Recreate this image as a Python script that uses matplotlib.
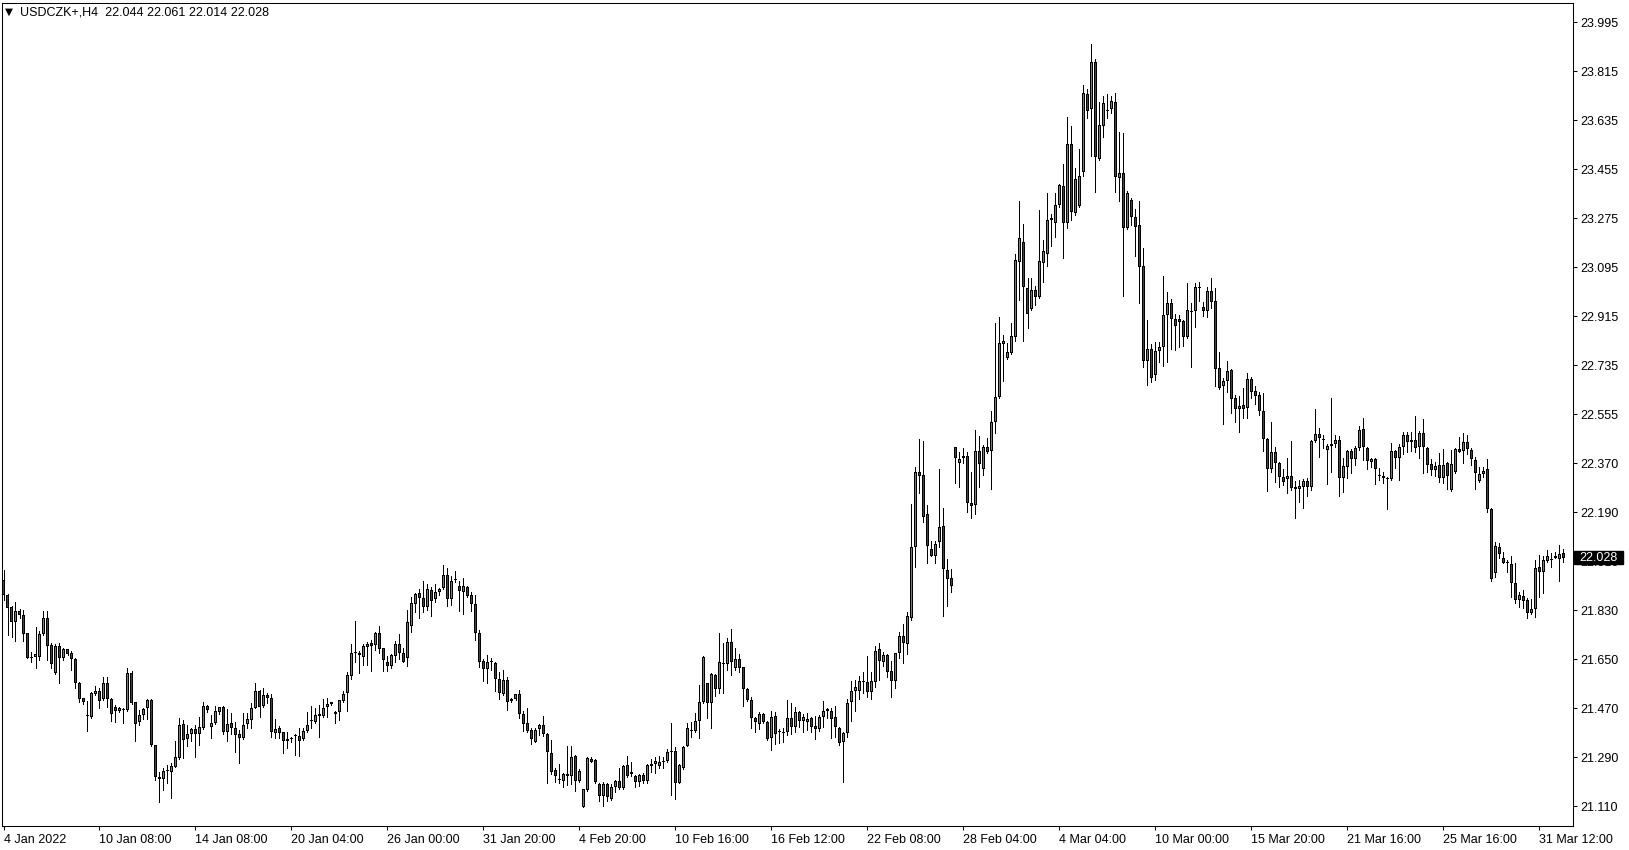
import numpy as np
import matplotlib.pyplot as plt
import matplotlib.transforms as mtransforms
from matplotlib.patches import Rectangle

symbol = "USDCZK+,H4"

time_labels = ["4 Jan 2022", "10 Jan 08:00", "14 Jan 08:00", "20 Jan 04:00", "26 Jan 00:00",
               "31 Jan 20:00", "4 Feb 20:00", "10 Feb 16:00", "16 Feb 12:00", "22 Feb 08:00",
               "28 Feb 04:00", "4 Mar 04:00", "10 Mar 00:00", "15 Mar 20:00", "21 Mar 16:00",
               "25 Mar 16:00", "31 Mar 12:00"]

price_labels = ["23.995", "23.815", "23.635", "23.455", "23.275", "23.095", "22.915", "22.735",
                "22.555", "22.370", "22.190", "22.010", "21.830", "21.650", "21.470", "21.290", "21.110"]

# H4 bars
opens = [
    21.946, 21.891, 21.847, 21.793, 21.832, 21.818, 21.750, 21.663, 21.662, 21.664,
    21.747, 21.808, 21.707, 21.603, 21.704, 21.658, 21.691, 21.678, 21.656, 21.569,
    21.511, 21.449, 21.442, 21.529, 21.538, 21.508, 21.568, 21.509, 21.480, 21.466,
    21.470, 21.467, 21.603, 21.497, 21.424, 21.449, 21.475, 21.506, 21.340, 21.224,
    21.214, 21.243, 21.242, 21.261, 21.294, 21.416, 21.361, 21.380, 21.398, 21.380,
    21.401, 21.484, 21.408, 21.420, 21.463, 21.479, 21.387, 21.420, 21.401, 21.380,
    21.365, 21.416, 21.432, 21.477, 21.539, 21.485, 21.524, 21.511, 21.385, 21.401,
    21.387, 21.362, 21.365, 21.373, 21.373, 21.361, 21.393, 21.427, 21.426, 21.447,
    21.448, 21.481, 21.492, 21.460, 21.462, 21.503, 21.530, 21.595, 21.678, 21.679,
    21.662, 21.701, 21.716, 21.707, 21.753, 21.695, 21.646, 21.631, 21.668, 21.710,
    21.677, 21.661, 21.778, 21.857, 21.897, 21.881, 21.848, 21.909, 21.876, 21.903,
    21.916, 21.965, 21.875, 21.946, 21.923, 21.901, 21.919, 21.891, 21.857, 21.750,
    21.649, 21.618, 21.646, 21.640, 21.581, 21.526, 21.579, 21.508, 21.508, 21.526,
    21.454, 21.420, 21.395, 21.352, 21.398, 21.414, 21.380, 21.312, 21.248, 21.214,
    21.209, 21.227, 21.227, 21.300, 21.209, 21.114, 21.175, 21.289, 21.285, 21.197,
    21.154, 21.196, 21.140, 21.185, 21.208, 21.181, 21.267, 21.232, 21.226, 21.205,
    21.230, 21.209, 21.264, 21.269, 21.264, 21.276, 21.283, 21.316, 21.318, 21.202,
    21.254, 21.338, 21.390, 21.393, 21.430, 21.497, 21.567, 21.493, 21.597, 21.545,
    21.637, 21.637, 21.717, 21.624, 21.655, 21.625, 21.545, 21.505, 21.438, 21.416,
    21.454, 21.423, 21.365, 21.447, 21.387, 21.383, 21.387, 21.440, 21.407, 21.460,
    21.430, 21.426, 21.438, 21.410, 21.398, 21.442, 21.466, 21.465, 21.442, 21.404,
    21.350, 21.383, 21.497, 21.540, 21.540, 21.573, 21.570, 21.534, 21.570, 21.692,
    21.646, 21.671, 21.613, 21.576, 21.677, 21.741, 21.710, 21.808, 22.069, 22.342,
    22.332, 22.187, 22.059, 22.036, 22.085, 22.146, 21.983, 21.952, 22.434, 22.375,
    22.393, 22.402, 22.230, 22.222, 22.421, 22.353, 22.436, 22.420, 22.525, 22.617,
    22.813, 22.761, 22.782, 22.838, 23.116, 23.187, 23.018, 22.941, 23.012, 22.985,
    23.112, 23.143, 23.268, 23.257, 23.324, 23.394, 23.257, 23.548, 23.293, 23.321,
    23.444, 23.731, 23.675, 23.848, 23.492, 23.614, 23.670, 23.675, 23.701, 23.424,
    23.443, 23.238, 23.342, 23.281, 23.250, 23.100, 22.752, 22.795, 22.699, 22.788,
    22.801, 22.920, 22.963, 22.905, 22.905, 22.898, 22.840, 22.930, 22.936, 23.020,
    22.948, 22.936, 23.008, 22.971, 22.724, 22.660, 22.679, 22.718, 22.614, 22.574,
    22.589, 22.577, 22.683, 22.641, 22.626, 22.568, 22.464, 22.353, 22.415, 22.375,
    22.323, 22.316, 22.328, 22.289, 22.279, 22.289, 22.310, 22.287, 22.457, 22.483,
    22.464, 22.424, 22.439, 22.445, 22.461, 22.320, 22.363, 22.420, 22.390, 22.432,
    22.501, 22.430, 22.381, 22.390, 22.332, 22.328, 22.320, 22.316, 22.420, 22.396,
    22.434, 22.479, 22.461, 22.461, 22.434, 22.485, 22.430, 22.371, 22.350, 22.369,
    22.320, 22.375, 22.277, 22.342, 22.427, 22.420, 22.452, 22.424, 22.387, 22.310,
    22.334, 22.353, 22.206, 21.973, 22.066, 22.028, 22.014, 22.005, 21.934, 21.873,
    21.889, 21.873, 21.824, 21.838, 21.993, 21.977, 22.017, 22.023, 22.028, 22.022,
    22.044,
]

highs = [
    21.983, 21.893, 21.852, 21.867, 21.840, 21.836, 21.750, 21.683, 21.775, 21.759,
    21.832, 21.832, 21.713, 21.710, 21.713, 21.698, 21.693, 21.685, 21.661, 21.573,
    21.514, 21.502, 21.536, 21.557, 21.548, 21.590, 21.590, 21.511, 21.487, 21.481,
    21.475, 21.622, 21.612, 21.497, 21.469, 21.475, 21.509, 21.508, 21.340, 21.242,
    21.257, 21.267, 21.273, 21.353, 21.438, 21.432, 21.414, 21.401, 21.414, 21.442,
    21.499, 21.487, 21.451, 21.484, 21.481, 21.484, 21.473, 21.459, 21.426, 21.395,
    21.457, 21.457, 21.493, 21.567, 21.542, 21.548, 21.530, 21.527, 21.434, 21.410,
    21.389, 21.389, 21.371, 21.381, 21.401, 21.401, 21.460, 21.483, 21.475, 21.487,
    21.509, 21.511, 21.499, 21.466, 21.505, 21.538, 21.609, 21.711, 21.796, 21.685,
    21.711, 21.720, 21.726, 21.756, 21.777, 21.698, 21.667, 21.673, 21.722, 21.747,
    21.695, 21.836, 21.885, 21.900, 21.912, 21.942, 21.930, 21.922, 21.930, 21.916,
    22.001, 21.989, 21.961, 21.979, 21.942, 21.952, 21.925, 21.901, 21.891, 21.762,
    21.656, 21.671, 21.658, 21.646, 21.607, 21.615, 21.591, 21.514, 21.529, 21.542,
    21.466, 21.475, 21.401, 21.401, 21.416, 21.448, 21.383, 21.358, 21.254, 21.269,
    21.239, 21.338, 21.338, 21.303, 21.251, 21.177, 21.295, 21.295, 21.289, 21.199,
    21.205, 21.202, 21.197, 21.212, 21.254, 21.267, 21.300, 21.279, 21.230, 21.234,
    21.239, 21.270, 21.289, 21.297, 21.300, 21.297, 21.324, 21.422, 21.334, 21.269,
    21.336, 21.420, 21.426, 21.457, 21.561, 21.667, 21.569, 21.603, 21.600, 21.750,
    21.714, 21.734, 21.765, 21.695, 21.673, 21.628, 21.551, 21.518, 21.444, 21.463,
    21.459, 21.428, 21.465, 21.463, 21.399, 21.404, 21.505, 21.493, 21.478, 21.466,
    21.453, 21.456, 21.442, 21.447, 21.450, 21.502, 21.475, 21.475, 21.483, 21.407,
    21.387, 21.509, 21.575, 21.579, 21.595, 21.610, 21.668, 21.610, 21.704, 21.714,
    21.681, 21.673, 21.649, 21.679, 21.754, 21.785, 21.827, 22.226, 22.363, 22.464,
    22.457, 22.222, 22.090, 22.090, 22.354, 22.210, 22.024, 21.987, 22.436, 22.418,
    22.430, 22.418, 22.342, 22.497, 22.475, 22.442, 22.467, 22.567, 22.889, 22.914,
    22.846, 22.816, 22.889, 23.144, 23.339, 23.254, 23.055, 23.055, 23.026, 23.306,
    23.195, 23.367, 23.291, 23.367, 23.401, 23.473, 23.648, 23.614, 23.459, 23.530,
    23.765, 23.750, 23.914, 23.860, 23.704, 23.724, 23.730, 23.724, 23.734, 23.591,
    23.590, 23.375, 23.348, 23.309, 23.339, 23.167, 22.901, 22.812, 22.822, 22.819,
    23.063, 23.006, 22.979, 22.922, 22.920, 22.901, 23.036, 22.965, 23.036, 23.042,
    22.966, 23.024, 23.055, 23.018, 22.783, 22.690, 22.752, 22.721, 22.626, 22.622,
    22.653, 22.705, 22.693, 22.660, 22.636, 22.632, 22.469, 22.528, 22.436, 22.381,
    22.354, 22.396, 22.457, 22.310, 22.314, 22.316, 22.320, 22.461, 22.575, 22.506,
    22.479, 22.445, 22.614, 22.479, 22.477, 22.396, 22.424, 22.428, 22.440, 22.512,
    22.540, 22.436, 22.393, 22.393, 22.359, 22.342, 22.326, 22.448, 22.424, 22.445,
    22.491, 22.491, 22.489, 22.549, 22.494, 22.537, 22.436, 22.390, 22.381, 22.412,
    22.426, 22.381, 22.424, 22.432, 22.473, 22.485, 22.479, 22.430, 22.399, 22.363,
    22.363, 22.390, 22.210, 22.087, 22.081, 22.050, 22.020, 22.036, 22.007, 21.903,
    21.910, 21.879, 21.875, 22.020, 22.038, 22.034, 22.056, 22.044, 22.050, 22.075,
    22.061,
]

lows = [
    21.873, 21.744, 21.738, 21.722, 21.808, 21.722, 21.658, 21.646, 21.624, 21.652,
    21.744, 21.652, 21.622, 21.600, 21.569, 21.652, 21.671, 21.615, 21.551, 21.499,
    21.489, 21.393, 21.438, 21.524, 21.477, 21.505, 21.481, 21.429, 21.423, 21.460,
    21.420, 21.465, 21.491, 21.353, 21.414, 21.437, 21.437, 21.337, 21.212, 21.132,
    21.175, 21.202, 21.147, 21.258, 21.289, 21.291, 21.337, 21.353, 21.297, 21.340,
    21.398, 21.463, 21.367, 21.417, 21.454, 21.381, 21.356, 21.380, 21.316, 21.275,
    21.361, 21.401, 21.404, 21.475, 21.442, 21.481, 21.496, 21.371, 21.367, 21.365,
    21.309, 21.330, 21.352, 21.303, 21.301, 21.358, 21.389, 21.401, 21.420, 21.371,
    21.444, 21.444, 21.487, 21.422, 21.432, 21.499, 21.466, 21.581, 21.646, 21.603,
    21.634, 21.634, 21.613, 21.689, 21.677, 21.613, 21.613, 21.624, 21.646, 21.656,
    21.644, 21.631, 21.756, 21.827, 21.805, 21.827, 21.836, 21.815, 21.867, 21.891,
    21.913, 21.852, 21.854, 21.940, 21.832, 21.822, 21.885, 21.832, 21.726, 21.628,
    21.575, 21.569, 21.615, 21.538, 21.509, 21.524, 21.469, 21.499, 21.504, 21.440,
    21.393, 21.387, 21.343, 21.350, 21.377, 21.374, 21.202, 21.234, 21.205, 21.199,
    21.185, 21.193, 21.197, 21.172, 21.205, 21.114, 21.172, 21.276, 21.202, 21.134,
    21.116, 21.134, 21.138, 21.169, 21.177, 21.177, 21.224, 21.227, 21.187, 21.191,
    21.199, 21.199, 21.240, 21.236, 21.257, 21.257, 21.279, 21.156, 21.141, 21.199,
    21.252, 21.336, 21.368, 21.389, 21.367, 21.496, 21.441, 21.401, 21.521, 21.530,
    21.530, 21.616, 21.597, 21.616, 21.607, 21.485, 21.502, 21.401, 21.387, 21.398,
    21.420, 21.358, 21.322, 21.343, 21.349, 21.352, 21.377, 21.380, 21.387, 21.407,
    21.387, 21.395, 21.387, 21.361, 21.391, 21.407, 21.440, 21.365, 21.371, 21.340,
    21.205, 21.371, 21.430, 21.466, 21.509, 21.532, 21.518, 21.508, 21.554, 21.579,
    21.630, 21.591, 21.518, 21.548, 21.658, 21.643, 21.673, 21.799, 21.995, 22.267,
    22.161, 22.008, 22.036, 22.008, 22.069, 21.815, 21.852, 21.901, 22.301, 22.289,
    22.375, 22.197, 22.173, 22.187, 22.289, 22.332, 22.414, 22.279, 22.488, 22.616,
    22.679, 22.758, 22.777, 22.826, 22.975, 22.826, 22.871, 22.938, 22.957, 22.984,
    23.042, 23.101, 23.175, 23.208, 23.318, 23.128, 23.238, 23.269, 23.287, 23.318,
    23.430, 23.645, 23.505, 23.373, 23.489, 23.573, 23.645, 23.663, 23.373, 23.340,
    22.991, 23.236, 23.250, 23.138, 22.963, 22.728, 22.663, 22.672, 22.681, 22.748,
    22.734, 22.748, 22.794, 22.791, 22.803, 22.807, 22.837, 22.730, 22.877, 22.973,
    22.917, 22.914, 22.944, 22.660, 22.648, 22.519, 22.638, 22.561, 22.528, 22.491,
    22.540, 22.540, 22.614, 22.592, 22.552, 22.421, 22.274, 22.344, 22.307, 22.287,
    22.295, 22.267, 22.277, 22.173, 22.234, 22.212, 22.256, 22.277, 22.455, 22.399,
    22.430, 22.299, 22.344, 22.434, 22.256, 22.268, 22.322, 22.338, 22.369, 22.424,
    22.387, 22.354, 22.363, 22.299, 22.314, 22.301, 22.206, 22.314, 22.359, 22.314,
    22.408, 22.418, 22.420, 22.418, 22.396, 22.338, 22.342, 22.332, 22.330, 22.307,
    22.301, 22.281, 22.273, 22.338, 22.415, 22.375, 22.408, 22.369, 22.281, 22.307,
    22.326, 22.195, 21.944, 21.958, 22.028, 22.007, 21.974, 21.885, 21.861, 21.848,
    21.845, 21.805, 21.820, 21.812, 21.885, 21.897, 22.014, 21.995, 22.026, 21.944,
    22.014,
]

closes = [
    21.891, 21.842, 21.791, 21.832, 21.818, 21.747, 21.661, 21.658, 21.674, 21.748,
    21.808, 21.705, 21.636, 21.704, 21.658, 21.693, 21.673, 21.655, 21.567, 21.509,
    21.497, 21.447, 21.532, 21.538, 21.503, 21.568, 21.508, 21.453, 21.466, 21.476,
    21.469, 21.604, 21.493, 21.416, 21.449, 21.471, 21.506, 21.340, 21.221, 21.214,
    21.245, 21.245, 21.263, 21.295, 21.414, 21.359, 21.380, 21.398, 21.380, 21.405,
    21.484, 21.469, 21.420, 21.465, 21.479, 21.389, 21.416, 21.401, 21.375, 21.365,
    21.413, 21.435, 21.475, 21.539, 21.481, 21.524, 21.511, 21.387, 21.398, 21.383,
    21.356, 21.356, 21.361, 21.372, 21.356, 21.392, 21.414, 21.432, 21.450, 21.453,
    21.475, 21.489, 21.497, 21.453, 21.504, 21.527, 21.597, 21.679, 21.679, 21.669,
    21.704, 21.711, 21.705, 21.753, 21.691, 21.652, 21.630, 21.671, 21.710, 21.677,
    21.646, 21.791, 21.860, 21.893, 21.881, 21.848, 21.912, 21.870, 21.903, 21.912,
    21.965, 21.875, 21.942, 21.949, 21.907, 21.923, 21.889, 21.857, 21.750, 21.644,
    21.618, 21.646, 21.647, 21.581, 21.530, 21.579, 21.499, 21.503, 21.526, 21.453,
    21.417, 21.393, 21.361, 21.395, 21.414, 21.380, 21.316, 21.242, 21.227, 21.212,
    21.234, 21.234, 21.295, 21.209, 21.245, 21.177, 21.291, 21.279, 21.205, 21.154,
    21.196, 21.148, 21.185, 21.208, 21.181, 21.263, 21.227, 21.240, 21.205, 21.230,
    21.209, 21.267, 21.269, 21.281, 21.278, 21.283, 21.316, 21.318, 21.202, 21.267,
    21.334, 21.401, 21.395, 21.430, 21.497, 21.662, 21.496, 21.600, 21.545, 21.644,
    21.640, 21.717, 21.644, 21.655, 21.622, 21.545, 21.505, 21.438, 21.426, 21.454,
    21.423, 21.362, 21.442, 21.379, 21.390, 21.389, 21.440, 21.407, 21.460, 21.430,
    21.442, 21.434, 21.407, 21.398, 21.442, 21.466, 21.471, 21.434, 21.405, 21.346,
    21.383, 21.493, 21.540, 21.552, 21.576, 21.576, 21.534, 21.575, 21.687, 21.649,
    21.671, 21.610, 21.576, 21.677, 21.741, 21.716, 21.814, 22.066, 22.342, 22.330,
    22.177, 22.072, 22.036, 22.077, 22.142, 21.986, 21.949, 21.925, 22.393, 22.390,
    22.402, 22.228, 22.218, 22.420, 22.371, 22.434, 22.418, 22.525, 22.620, 22.816,
    22.824, 22.783, 22.843, 23.122, 23.202, 23.022, 22.922, 23.012, 22.987, 23.118,
    23.155, 23.269, 23.277, 23.324, 23.397, 23.257, 23.548, 23.297, 23.419, 23.430,
    23.734, 23.670, 23.848, 23.499, 23.618, 23.697, 23.673, 23.706, 23.426, 23.440,
    23.238, 23.367, 23.281, 23.244, 23.097, 22.752, 22.794, 22.687, 22.788, 22.801,
    22.920, 22.963, 22.905, 22.881, 22.895, 22.840, 22.938, 22.932, 23.024, 23.021,
    22.936, 23.008, 22.969, 22.721, 22.650, 22.679, 22.715, 22.611, 22.574, 22.585,
    22.574, 22.683, 22.638, 22.623, 22.568, 22.463, 22.353, 22.415, 22.375, 22.323,
    22.307, 22.328, 22.285, 22.279, 22.292, 22.310, 22.287, 22.457, 22.483, 22.467,
    22.459, 22.439, 22.446, 22.461, 22.320, 22.365, 22.420, 22.390, 22.432, 22.497,
    22.434, 22.383, 22.390, 22.353, 22.328, 22.320, 22.317, 22.420, 22.396, 22.434,
    22.479, 22.452, 22.452, 22.432, 22.485, 22.436, 22.369, 22.350, 22.365, 22.322,
    22.369, 22.330, 22.371, 22.427, 22.418, 22.452, 22.426, 22.390, 22.338, 22.334,
    22.348, 22.206, 21.949, 22.071, 22.040, 22.010, 22.010, 21.934, 21.873, 21.891,
    21.870, 21.824, 21.840, 21.992, 21.977, 22.020, 22.034, 22.020, 22.034, 22.040,
    22.028,
]

plt.rcParams['font.family'] = ['Liberation Sans', 'DejaVu Sans']

W, H = 1629, 850
fig = plt.figure(figsize=(W / 100, H / 100), dpi=100)
fig.patch.set_facecolor('white')
# plot frame in pixels: left 2, right 1573, top 3, bottom 826
ax_px = (2.0, 3.0, 1573.0, 826.0)
ax = fig.add_axes([ax_px[0] / W, (H - ax_px[3]) / H,
                   (ax_px[2] - ax_px[0]) / W, (ax_px[3] - ax_px[1]) / H])

o = np.array(opens)
h = np.array(highs)
l = np.array(lows)
c = np.array(closes)
x = np.arange(len(c))

# 4 px per bar, first bar centred on pixel 3.5
ax.set_xlim(-0.375, (ax_px[2] - ax_px[0] - 1.5) / 4)
ax.set_ylim(21.0425, 24.066)
py = (24.066 - 21.0425) / (ax_px[3] - ax_px[1])   # price per pixel

bull = '#00D000'
bear = '#E00000'
colors = np.where(c >= o, bull, bear)

lo = np.minimum(o, c)
span = np.abs(c - o)

# wicks
ax.vlines(x, l, h, color='black', linewidth=0.72, antialiased=False, zorder=2)
# body outline: 3 px black block, then 1 px coloured core
ax.bar(x, np.maximum(span, py), bottom=lo, width=0.75, color='black',
       linewidth=0, antialiased=False, zorder=3)
core = span > 2 * py
ax.bar(x[core], span[core] - 2 * py, bottom=lo[core] + py, width=0.25,
       color=colors[core], linewidth=0, antialiased=False, zorder=4)

for s in ax.spines.values():
    s.set_linewidth(0.75)
    s.set_color('black')

# price scale on the right
ax.yaxis.tick_right()
ax.set_yticks(np.linspace(23.995, 21.115, len(price_labels)))
ax.set_yticklabels(price_labels)
ax.tick_params(axis='y', direction='out', length=3, width=0.75, pad=2, labelsize=9)

# time scale, one label every 24 bars
ax.set_xticks(x[::24])
ax.set_xticklabels(time_labels)
ax.tick_params(axis='x', direction='out', length=3, width=0.75, pad=2.5, labelsize=9)
for lab in ax.get_xticklabels():
    lab.set_horizontalalignment('left')

# header
fig.text(9 / W, 1 - 12 / H, '\u25bc', ha='center', va='center', fontsize=7.5,
         family='DejaVu Sans')
header = f"{symbol}  {opens[-1]:.3f} {highs[-1]:.3f} {lows[-1]:.3f} {closes[-1]:.3f}"
fig.text(20.5 / W, 1 - 12.5 / H, header, ha='left', va='center', fontsize=9)

# last price tag on the price scale
trans = mtransforms.blended_transform_factory(ax.transAxes, ax.transData)
box_h = 13.5 * py
box_w = 49.4 / (ax_px[2] - ax_px[0])
ax.add_patch(Rectangle((1.0004, c[-1] - box_h / 2), box_w, box_h, transform=trans,
                       facecolor='black', edgecolor='black', clip_on=False, zorder=10))
ax.text(1.0004 + box_w / 2, c[-1], f"{closes[-1]:.3f}", transform=trans, ha='center',
        va='center', color='white', fontsize=9, zorder=11, clip_on=False)

fig.savefig('out.png', dpi=100)
